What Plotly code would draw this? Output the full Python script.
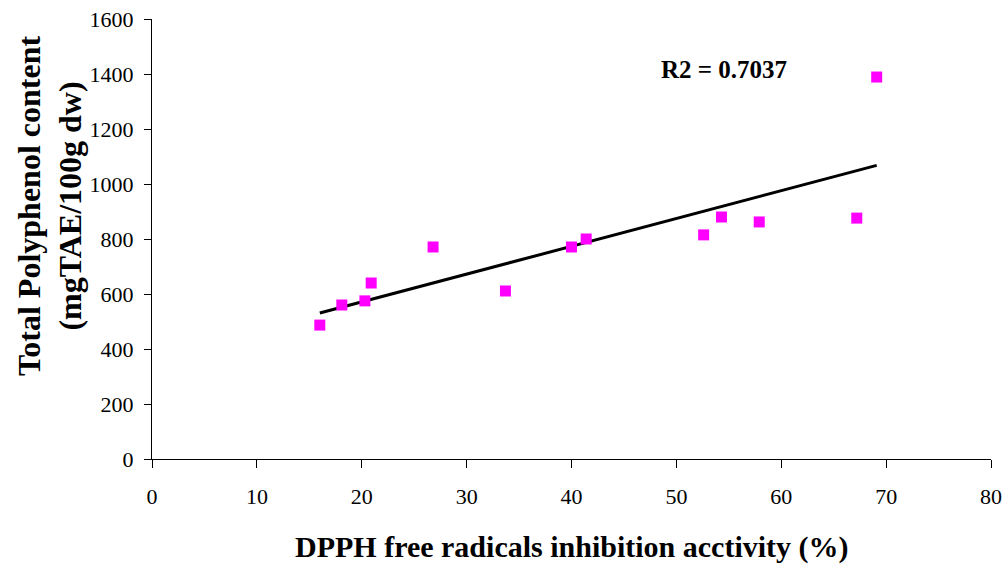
import numpy as np
import plotly.graph_objects as go

dpph = [16.0, 18.1, 20.3, 20.9, 26.8, 33.7, 40.0, 41.4, 52.6, 54.3, 57.9, 67.2, 69.1]
polyphenol = [487, 560, 575, 640, 771, 611, 771, 800, 815, 880, 862, 876, 1389]
x_ticks = [0, 10, 20, 30, 40, 50, 60, 70, 80]
y_ticks = [0, 200, 400, 600, 800, 1000, 1200, 1400, 1600]
r2_label = "R2 = 0.7037"

slope, intercept = np.polyfit(dpph, polyphenol, 1)
trend_x = [min(dpph), max(dpph)]
trend_y = [slope * v + intercept for v in trend_x]

font_family = "Liberation Serif"

fig = go.Figure()
fig.add_trace(go.Scatter(x=trend_x, y=trend_y, mode="lines",
                         line=dict(color="black", width=3), showlegend=False))
fig.add_trace(go.Scatter(x=dpph, y=polyphenol, mode="markers",
                         marker=dict(symbol="square", size=11, color="#FF00FF"),
                         showlegend=False))

fig.update_layout(
    width=1006, height=565,
    margin=dict(l=152, r=15, t=19, b=106, autoexpand=False),
    paper_bgcolor="white", plot_bgcolor="white",
    font=dict(family=font_family, color="black"),
    xaxis=dict(range=[0, 80], tickvals=x_ticks, showgrid=False, zeroline=False,
               showline=True, linecolor="black", linewidth=1, automargin=False,
               ticks="outside", ticklen=8, tickcolor="black",
               tickfont=dict(size=22, family=font_family),
               ticklabelstandoff=10, ticklabeloverflow="allow"),
    yaxis=dict(range=[0, 1600], tickvals=y_ticks, showgrid=False, zeroline=False,
               showline=True, linecolor="black", linewidth=1, automargin=False,
               ticks="outside", ticklen=7, tickcolor="black",
               tickfont=dict(size=22, family=font_family),
               ticklabelstandoff=6, ticklabeloverflow="allow"),
    annotations=[
        dict(text="<b>DPPH free radicals inhibition acctivity (%)</b>",
             xref="paper", yref="paper", x=0.5, y=-0.2, yanchor="middle",
             showarrow=False, font=dict(size=30, family=font_family)),
        dict(text="<b>Total Polyphenol content<br>(mgTAE/100g dw)</b>",
             xref="paper", yref="paper", x=-0.1216, y=0.577, textangle=-90,
             xanchor="center", yanchor="middle",
             showarrow=False, font=dict(size=32, family=font_family)),
        dict(text="<b>" + r2_label + "</b>", xref="x", yref="y", x=54.5, y=1415,
             showarrow=False, font=dict(size=25, family=font_family)),
    ],
)

fig.write_html(
    "out.html",
    config={"displayModeBar": False},
    post_script="document.body.style.margin='0';document.documentElement.style.overflow='hidden';",
)
